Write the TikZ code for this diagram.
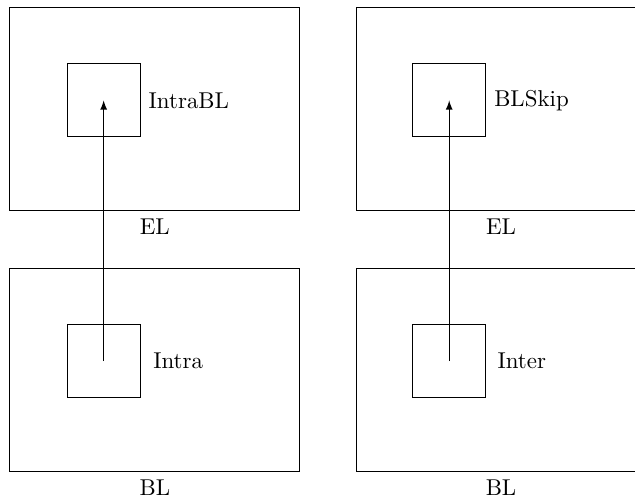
\documentclass[tikz,border=0pt]{standalone}
\usetikzlibrary{positioning}
\tikzset{
  layer/.style={draw, minimum width=4.45cm, minimum height=3.11cm, inner sep=0pt},
  block/.style={draw, minimum size=1.12cm, inner sep=0pt},
}
\begin{document}
\begin{tikzpicture}
  \pgfmathsetmacro{\colLeft}{2.375};
  \pgfmathsetmacro{\colRight}{7.685};
  \pgfmathsetmacro{\rowTop}{5.975};
  \pgfmathsetmacro{\rowBottom}{1.98};
  \useasboundingbox (0,0) rectangle (9.74,7.65);
  %% Layers
  \node[layer] (elLeft) at (\colLeft,\rowTop) {};
  \node[layer] (blLeft) at (\colLeft,\rowBottom) {};
  \node[layer] (elRight) at (\colRight,\rowTop) {};
  \node[layer] (blRight) at (\colRight,\rowBottom) {};
  \node[below=0pt of elLeft] (elLeftText) {EL};
  \node[below=0pt of blLeft] (blLeftText) {BL};
  \node[below=0pt of elRight] (elRightText) {EL};
  \node[below=0pt of blRight] (blRightText) {BL};
  %% Blocks
  \node[block] (intraBL) at (1.59,6.11) {};
  \node[block] (intra) at (1.59,2.11) {};
  \node[block] (blSkip) at (6.89,6.11) {};
  \node[block] (inter) at (6.89,2.11) {};
  \node[right=0pt of intraBL] (intraBLText) {IntraBL};
  \node[right=0.07cm of intra] (intraText) {Intra};
  \node[right=0pt of blSkip] (blSkipText) {BLSkip};
  \node[right=0.05cm of inter] (interText) {Inter};
  %% Connections
  \draw[-latex] (intra.center) -- (intraBL.center);
  \draw[-latex] (inter.center) -- (blSkip.center);
\end{tikzpicture}
\end{document}
